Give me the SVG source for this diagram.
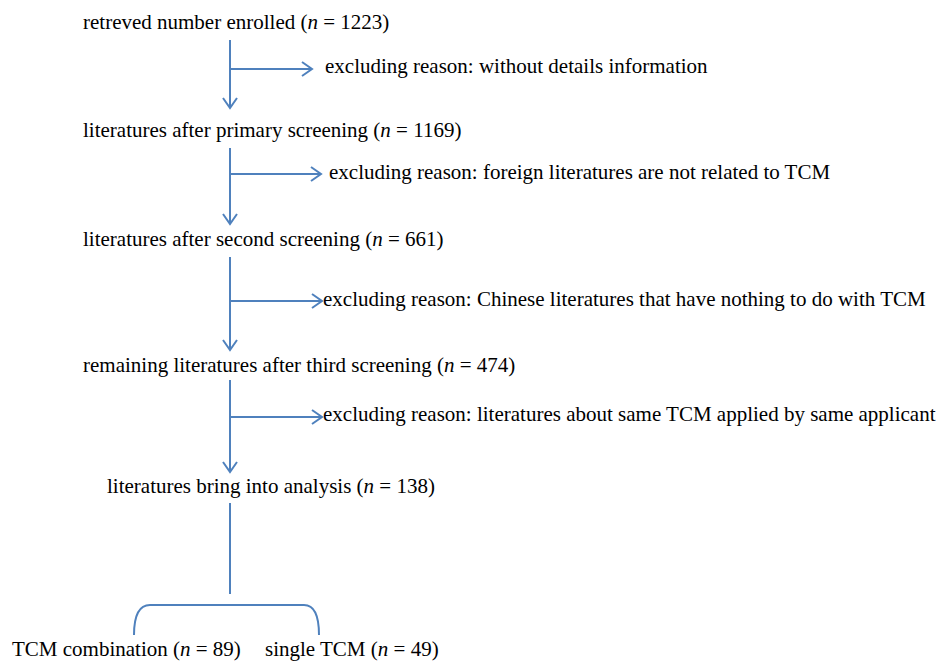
<svg xmlns="http://www.w3.org/2000/svg" width="949" height="662" viewBox="0 0 949 662">
<style>
text{font-family:"Liberation Serif","Times New Roman",serif;font-size:21px;fill:#000}
.i{font-style:italic}
.c{fill:none;stroke:#4F81BD;stroke-width:2}
</style>
<defs>
<marker id="ah" markerUnits="userSpaceOnUse" markerWidth="20" markerHeight="20" viewBox="-14 -10 16 20" refX="0" refY="0" orient="auto">
<path d="M-10,-7 L0,0 L-10,7" fill="none" stroke="#4F81BD" stroke-width="2"/>
</marker>
</defs>
<rect width="949" height="662" fill="#fff"/>
<g id="connectors">
<path class="c" d="M230,40 V108" marker-end="url(#ah)"/>
<path class="c" d="M230,69 H312" marker-end="url(#ah)"/>
<path class="c" d="M230,148 V224" marker-end="url(#ah)"/>
<path class="c" d="M230,174 H321" marker-end="url(#ah)"/>
<path class="c" d="M230,257 V350" marker-end="url(#ah)"/>
<path class="c" d="M230,301 H322" marker-end="url(#ah)"/>
<path class="c" d="M230,380 V472" marker-end="url(#ah)"/>
<path class="c" d="M230,417 H322" marker-end="url(#ah)"/>
<path class="c" d="M230,503 V594"/>
<path class="c" d="M134,635 C134,620 137,605 150,605 L304,605 C316,605 319,620 319,635"/>
</g>
<g id="n1"><text x="83" y="29">retreved number enrolled (<tspan class="i">n</tspan> = 1223)</text></g>
<g id="e1"><text x="325" y="73">excluding reason: without details information</text></g>
<g id="n2"><text x="83" y="137">literatures after primary screening (<tspan class="i">n</tspan> = 1169)</text></g>
<g id="e2"><text x="329" y="179">excluding reason: foreign literatures are not related to TCM</text></g>
<g id="n3"><text x="83" y="246">literatures after second screening (<tspan class="i">n</tspan> = 661)</text></g>
<g id="e3"><text x="323" y="306">excluding reason: Chinese literatures that have nothing to do with TCM</text></g>
<g id="n4"><text x="83" y="372">remaining literatures after third screening (<tspan class="i">n</tspan> = 474)</text></g>
<g id="e4"><text x="323" y="421">excluding reason: literatures about same TCM applied by same applicant</text></g>
<g id="n5"><text x="107" y="493">literatures bring into analysis (<tspan class="i">n</tspan> = 138)</text></g>
<g id="n6"><text x="12" y="656">TCM combination (<tspan class="i">n</tspan> = 89)</text></g>
<g id="n7"><text x="265" y="656">single TCM (<tspan class="i">n</tspan> = 49)</text></g>
</svg>
